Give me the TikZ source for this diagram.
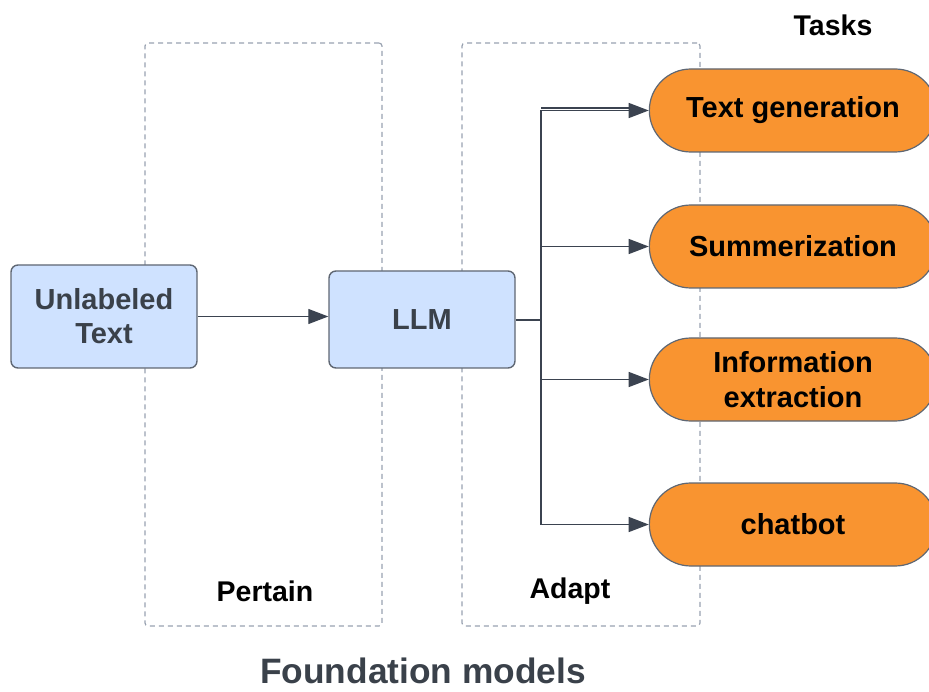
\documentclass[tikz,border=0pt]{standalone}
\usepackage{fontspec}
\setmainfont{Liberation Sans}
\usetikzlibrary{arrows.meta,shapes.misc}

\definecolor{boxblue}{HTML}{CFE2FF}
\definecolor{boxedge}{HTML}{5F6773}
\definecolor{inkgray}{HTML}{3A414A}
\definecolor{taskorange}{HTML}{F99430}
\definecolor{dashgray}{HTML}{98A1B0}
\definecolor{wire}{HTML}{3B4350}

\tikzset{
  phase/.style={draw=dashgray, line width=1.2pt, dash pattern=on 5pt off 4pt,
    rounded corners=3pt, inner sep=0pt},
  modelbox/.style={draw=boxedge, fill=boxblue, line width=1.4pt, rounded corners=7pt,
    minimum width=186pt, text=inkgray, align=center,
    font=\fontsize{29}{35}\selectfont\bfseries},
  taskbox/.style={draw=boxedge, fill=taskorange, line width=1.2pt,
    rounded rectangle, minimum width=294pt, minimum height=83pt, text=black,
    align=center, font=\fontsize{29}{35}\selectfont\bfseries},
  caption/.style={text=black, font=\fontsize{28.5}{34}\selectfont\bfseries},
  link/.style={draw=wire, line width=1.2pt},
  arrowlink/.style={link, -{Triangle[length=20pt,width=15pt]}},
}

\begin{document}
\begin{tikzpicture}[x=1pt,y=-1pt]
  \useasboundingbox (0,0) rectangle (929,692);

  % stage frames
  \node[phase, minimum width=237pt, minimum height=583pt] (pretrainframe) at (263.5,334.5) {};
  \node[phase, minimum width=238pt, minimum height=583pt] (adaptframe) at (581,334.5) {};

  % model boxes
  \node[modelbox, minimum height=103pt] (unlabeled) at (104,316.5) {Unlabeled\\[-1pt]Text};
  \node[modelbox, minimum height=97pt] (llm) at (422,319.5) {LLM};

  % task pills
  \node[taskbox] (t1) at (793,110.5) {Text generation};
  \node[taskbox] (t2) at (793,246.5) {Summerization};
  \node[taskbox] (t3) at (793,379.5) {Information\\extraction};
  \node[taskbox] (t4) at (793,524.5) {chatbot};

  % labels
  \node[caption] (tasks) at (833,25) {Tasks};
  \node[caption] (pertain) at (265,591) {Pertain};
  \node[caption] (adapt) at (570,591) {Adapt};
  \node[text=inkgray, font=\fontsize{35.3}{40}\selectfont\bfseries] (foundation) at (423,671) {Foundation models};

  % connectors
  \draw[arrowlink] (unlabeled.east) -- (unlabeled.east -| llm.west);
  \coordinate (split) at (541,320);
  \draw[link] (llm.east |- split) -- (split);
  \draw[arrowlink] (split) |- (t1.west);
  \draw[link] ([yshift=2.5pt]t1.west -| split) -- ([xshift=-16pt,yshift=2.5pt]t1.west);
  \draw[arrowlink] (split) |- (t2.west);
  \draw[arrowlink] (split) |- (t3.west);
  \draw[arrowlink] (split) |- (t4.west);
\end{tikzpicture}
\end{document}
